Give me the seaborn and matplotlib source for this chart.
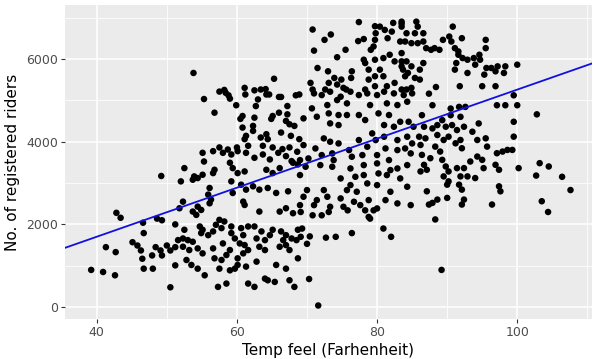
import matplotlib
matplotlib.use("Agg")
import matplotlib.pyplot as plt
import seaborn as sns
import pandas as pd
from matplotlib.ticker import MultipleLocator

# ---- data (temp feel in F, registered riders) ----
# dense middle block (about 69-86 F, 2350-5250 riders)
temp_a = [71.0,72.1,73.3,74.8,76.2,77.4,78.6,80.0,81.0,82.4,83.8,85.0,70.7,72.9,74.3,75.7,79.0,81.4,82.9,84.3,
          69.5,71.4,73.1,74.5,75.7,77.4,78.3,80.2,81.7,83.3,84.5,73.3,74.5,81.0,82.4,85.2,72.4,73.3,74.5,77.4,
          79.3,79.8,81.0,82.9,84.3,85.0,69.5,71.2,73.6,76.0,78.6,81.2,82.9,84.0,68.6,69.0,70.2,72.1,73.8,76.4,
          77.9,80.0,81.7,84.8,69.8,71.9,73.6,76.2,78.1,80.0,81.9,82.9,84.3,69.0,74.8,76.9,78.1,80.2,81.4,83.3,
          76.2,78.6,80.0,84.3,70.0,72.4,75.7,77.1,81.9,69.5,71.4,72.9,74.8,76.7,78.8,81.2,82.9,69.0,71.0,73.3,
          75.2,77.6,80.0,84.8]
riders_a = [5166,5126,5207,5086,5207,5126,5166,5126,5207,5166,5126,5166,4804,4884,5005,4925,4884,4925,4884,4965,
            4562,4602,4683,4643,4643,4643,4522,4683,4643,4481,4481,4441,4401,4401,4360,4360,4078,3998,3957,4038,
            4199,4038,4119,4038,4119,3957,3917,3836,3716,3796,3877,3836,3796,3836,3756,3554,3594,3675,3554,3635,
            3675,3675,3554,3716,3393,3433,3393,3352,3433,3474,3312,3352,3433,3192,3111,3151,3192,3232,3192,3111,
            2950,2990,2950,2910,2829,2829,2829,2789,2789,2668,2587,2668,2628,2547,2587,2587,2507,2466,2466,2426,
            2426,2466,2386,2466]

# block right of it (about 86-102 F, 2350-5250 riders)
temp_b = [87.4,87.9,90.5,91.7,92.6,97.1,98.3,99.5,100.0,86.4,89.3,90.5,91.9,94.5,99.5,86.7,87.9,88.6,89.8,90.7,
          91.4,92.4,93.6,86.0,86.9,86.2,88.6,89.5,90.2,91.2,91.9,92.1,94.3,95.5,95.7,97.1,97.9,98.6,99.3,99.5,
          86.4,87.6,86.7,87.1,88.3,89.0,89.3,89.8,90.2,89.5,91.4,92.4,93.3,94.3,95.0,95.2,96.9,97.4,100.2,86.2,
          91.9,92.9,94.0,90.0,90.2,91.7,92.1,97.4,97.6,87.1,88.6,90.0,87.4,87.9,92.4,92.1,96.4]
riders_b = [5160,4880,4800,4840,4840,4880,4880,5120,4880,4640,4520,4640,4600,4440,4480,4360,4320,4400,4360,4400,
            4280,4360,4240,4120,4080,3920,4160,4040,4120,3960,4040,3840,4040,4080,3880,3720,3760,3800,3800,4120,
            3680,3600,3440,3320,3880,3760,3560,3400,3280,3160,3360,3360,3520,3640,3560,3360,3440,3320,3360,3280,
            3160,3160,3120,2960,3040,2960,2840,2920,2800,2800,2600,2640,2480,2520,2600,2480,2480]

# lower-left dense block (about 52-69 F, 400-3800 riders)
temp_c = [55.1,55.3,56.6,58.0,59.2,60.1,61.3,62.5,63.7,64.7,65.9,67.0,68.0,52.5,53.9,55.1,56.6,56.8,59.0,59.4,
          60.1,61.1,64.2,65.1,66.1,67.8,68.7,52.0,53.7,54.4,56.1,55.9,56.3,56.1,59.2,59.4,60.6,61.3,62.3,63.2,
          64.4,65.6,67.3,60.9,61.1,63.2,66.1,67.0,68.0,54.4,53.7,54.2,54.9,52.3,51.8,57.5,58.2,57.0,57.8,56.6,
          55.9,55.1,52.5,52.3,53.0,53.7,54.7,54.9,59.2,59.2,59.7,60.6,61.6,60.9,62.5,63.5,62.8,65.1,64.7,64.0,
          66.3,67.0,67.8,66.6,68.7,68.5,52.3,53.2,54.4,55.1,56.6,58.0,59.0,58.5,60.4,61.1,61.6,60.9,63.2,64.0,
          66.1,67.5,67.0,52.8,53.5,56.8,57.8,60.1,60.1,59.7,57.5,59.0,61.3,62.8,65.6,67.0,68.7,54.4,55.4,57.3,
          58.5,64.0,64.4,65.4,67.5,68.2,61.6,62.5]
riders_c = [3730,3520,3770,3730,3690,3770,3730,3610,3690,3570,3730,3650,3490,3360,3160,3200,3240,3320,3490,3360,
            3240,3280,3320,3240,3360,3530,3450,3040,3080,3120,2880,2720,2600,2510,3040,2760,2960,2840,2920,2840,
            2880,2760,2800,2550,2470,2310,2310,2390,2270,2430,2310,2230,2350,2550,2390,2110,2070,1990,1910,1830,
            1740,1870,1870,1660,1620,1580,1950,1790,1950,1790,1660,1910,1950,1740,1950,1830,1660,1870,1740,1620,
            1830,1740,1660,1620,1870,1620,1460,1380,1420,1300,1420,1540,1380,1260,1540,1500,1380,1300,1460,1380,
            1460,1380,1500,1140,1020,1180,1140,1180,1020,930,930,890,980,1100,1020,930,1180,930,770,490,
            570,690,650,610,650,490,570,490]

# the rest of the cloud
temp_rest = [53.8,55.3,56.8,57.5,58.4,58.8,59.0,58.2,59.9,60.5,57.5,58.7,60.0,
             77.4,70.8,73.4,72.5,71.0,75.5,74.3,77.3,78.1,79.7,80.4,81.1,82.1,82.3,83.5,79.8,79.7,79.5,81.5,83.3,
             83.5,82.5,81.8,80.9,79.7,79.1,78.8,78.1,78.3,80.4,80.9,79.7,78.8,79.7,81.4,82.5,83.5,84.0,83.5,78.3,
             71.5,73.0,73.9,74.3,75.2,76.4,76.3,74.9,75.6,73.1,72.6,70.5,70.8,
             65.3,61.1,61.2,62.5,63.4,64.1,64.2,63.0,62.7,64.6,66.0,66.3,68.9,68.4,
             60.8,62.5,65.1,66.0,67.2,67.2,67.0,67.5,68.2,64.9,
             60.8,62.3,62.3,61.3,61.1,63.4,64.2,64.4,66.3,67.7,68.9,
             61.6,63.7,65.1,66.5,67.5,
             83.5,83.5,84.2,85.6,85.8,85.4,86.6,84.0,84.9,85.8,86.6,87.0,87.7,88.2,88.9,89.4,90.3,90.8,90.6,91.1,
             91.6,92.1,95.5,95.5,94.6,93.8,92.9,92.2,91.6,91.3,91.1,92.9,94.0,94.7,95.6,96.3,97.2,98.3,100.0,98.1,
             96.9,95.3,95.0,96.9,91.8,88.4,
             83.5,84.2,84.9,83.7,84.4,85.4,86.1,86.6,86.1,84.2,84.9,102.8,
             49.2,42.8,43.4,46.6,46.7,48.6,49.3,51.2,50.5,45.1,45.8,46.3,46.5,47.9,48.4,49.1,49.3,50.0,50.5,51.2,
             51.2,46.7,48.0,41.3,42.7,39.2,40.9,42.6,51.6,
             73.1,72.1,70.8,78.3,78.8,79.0,79.5,80.9,82.0,75.8,76.4,74.1,72.7,70.4,70.0,69.3,69.1,70.3,71.6,69.1,
             103.2,104.5,102.7,106.4,107.6,103.5,104.4,88.3,89.2]
riders_rest = [5660,5030,4700,5210,5180,5120,5040,5250,4880,4550,3860,3810,3860,
               6890,6710,6590,6460,6200,6220,6040,6430,6480,6790,6780,6700,6660,6870,6850,6620,6460,6300,6500,6420,
               6140,5940,6100,6020,5980,6220,5740,5980,5900,5740,5580,5580,5500,5340,5340,5420,5260,5580,5820,5260,
               5780,5700,5540,5380,5300,5700,5540,5500,5260,5420,5260,5420,5260,
               5520,5300,5140,5240,5260,5270,5140,5020,4860,5140,5080,5080,5140,5120,
               4620,4580,4620,4700,4860,4660,4500,4420,4380,4550,
               4340,4380,4260,4140,4060,4100,4180,4060,4220,4140,4060,
               3900,3900,3860,3820,3860,
               6900,6780,6620,6900,6780,6620,6620,6420,6380,6380,6420,6260,6220,6260,6220,6460,6540,6780,6420,6260,
               6180,6500,6460,6260,6100,6020,5980,6020,6100,5900,5740,5660,5860,5980,5780,5780,5820,5820,5860,5660,
               5700,5620,5340,5340,5340,5320,
               5940,5940,5820,5740,5660,5540,5740,5900,5500,5260,5300,4660,
               3170,2280,2160,2040,1790,2140,2100,2000,480,1570,1490,1370,1170,1250,1450,1370,1250,1490,1370,1450,
               1010,930,930,1450,1330,900,850,770,1620,
               2300,2220,2220,2340,2180,2140,2340,1900,1700,2340,1790,1700,1680,1710,1530,1900,1700,680,40,2300,
               3480,3400,3180,3150,2830,2560,2300,2120,900]

temp_f = temp_a + temp_b + temp_c + temp_rest
registered = riders_a + riders_b + riders_c + riders_rest

df = pd.DataFrame({"atemp_f": temp_f, "registered": registered})

x_ticks = [40, 60, 80, 100]
y_ticks = [0, 2000, 4000, 6000]

sns.set_theme(style="darkgrid")
plt.rcParams["font.family"] = ["DejaVu Sans"]

fig = plt.figure(figsize=(5.94, 3.59), dpi=100)
ax = fig.add_axes([0.109, 0.111, 0.888, 0.875])
ax.set_facecolor("#EBEBEB")
ax.set_xlim(35.43, 110.7)
ax.set_ylim(-290, 7302)

sns.regplot(data=df, x="atemp_f", y="registered", ax=ax, ci=None, truncate=False,
            scatter_kws=dict(s=22, color="black", edgecolors="none", alpha=1, zorder=3),
            line_kws=dict(color="#1010e0", lw=1.3, zorder=4))

ax.set_xticks(x_ticks)
ax.set_yticks(y_ticks)
ax.xaxis.set_minor_locator(MultipleLocator(10))
ax.yaxis.set_minor_locator(MultipleLocator(1000))
ax.grid(which="major", color="white", lw=1.1)
ax.grid(which="minor", color="white", lw=0.55)
ax.set_axisbelow(True)
for s in ax.spines.values():
    s.set_visible(False)
ax.tick_params(axis="both", which="major", length=3, width=0.8, color="#333333",
               labelsize=9, labelcolor="#4D4D4D", pad=2, left=True, bottom=True)
ax.tick_params(axis="both", which="minor", length=0)
ax.set_xlabel("Temp feel (Farhenheit)", fontsize=11, color="black", labelpad=3)
ax.set_ylabel("No. of registered riders", fontsize=11, color="black", labelpad=4)

fig.savefig("out.png", dpi=100)
